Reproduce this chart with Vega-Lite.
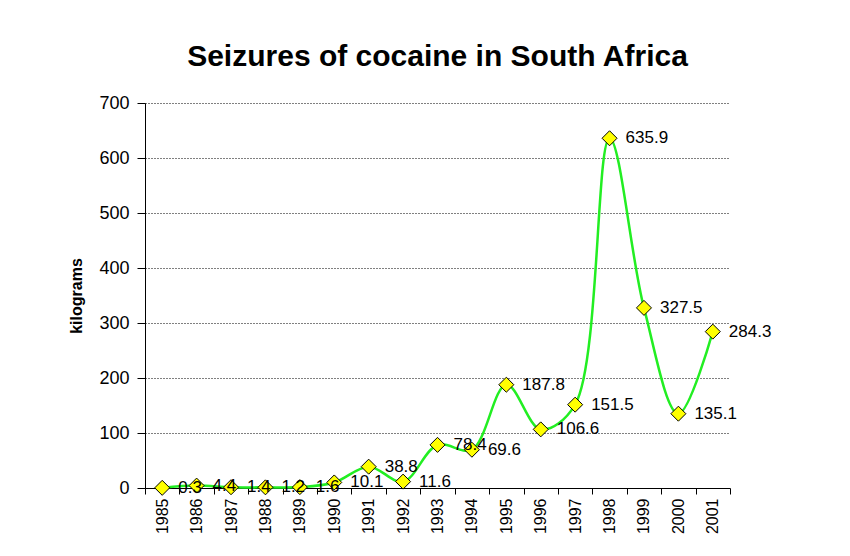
{
  "$schema": "https://vega.github.io/schema/vega-lite/v6.json",
  "width": 585,
  "height": 385,
  "autosize": {"type": "none"},
  "padding": {"left": 145, "top": 103, "right": 120, "bottom": 68},
  "background": "white",
  "config": {
    "font": "Liberation Sans",
    "view": {"stroke": null},
    "axis": {"labelColor": "black", "titleColor": "black", "domainColor": "black", "tickColor": "black"}
  },
  "title": {
    "text": "Seizures of cocaine in South Africa",
    "fontSize": 30,
    "fontWeight": "bold",
    "font": "Liberation Sans",
    "color": "black",
    "anchor": "middle",
    "offset": 22
  },
  "data": {
    "values": [
      {"year": "1985", "kg": 0.3},
      {"year": "1986", "kg": 4.4},
      {"year": "1987", "kg": 1.4},
      {"year": "1988", "kg": 1.2},
      {"year": "1989", "kg": 1.6},
      {"year": "1990", "kg": 10.1},
      {"year": "1991", "kg": 38.8},
      {"year": "1992", "kg": 11.6},
      {"year": "1993", "kg": 78.4},
      {"year": "1994", "kg": 69.6},
      {"year": "1995", "kg": 187.8},
      {"year": "1996", "kg": 106.6},
      {"year": "1997", "kg": 151.5},
      {"year": "1998", "kg": 635.9},
      {"year": "1999", "kg": 327.5},
      {"year": "2000", "kg": 135.1},
      {"year": "2001", "kg": 284.3}
    ]
  },
  "encoding": {
    "x": {
      "field": "year",
      "type": "ordinal",
      "scale": {"type": "band", "paddingInner": 0, "paddingOuter": 0},
      "axis": {
        "title": null,
        "labelAngle": -90,
        "labelFontSize": 16,
        "labelAlign": "right",
        "labelBaseline": "middle",
        "labelPadding": 4,
        "tickSize": 6,
        "tickBand": "extent",
        "grid": false
      }
    },
    "y": {
      "field": "kg",
      "type": "quantitative",
      "scale": {"domain": [0, 700]},
      "axis": {
        "title": "kilograms",
        "titleFontSize": 16,
        "titleFontWeight": "bold",
        "titlePadding": 14,
        "labelFontSize": 18,
        "labelPadding": 8,
        "tickSize": 8,
        "values": [0, 100, 200, 300, 400, 500, 600, 700],
        "grid": true,
        "gridColor": "black",
        "gridDash": [1, 2],
        "gridWidth": 1
      }
    }
  },
  "layer": [
    {
      "mark": {"type": "line", "interpolate": "catmull-rom", "color": "#22ee22", "strokeWidth": 2.5}
    },
    {
      "mark": {"type": "point", "shape": "diamond", "filled": true, "fill": "#ffff00", "stroke": "black", "strokeWidth": 1, "size": 225, "opacity": 1}
    },
    {
      "mark": {"type": "text", "align": "left", "baseline": "middle", "dx": 16, "dy": 0, "fontSize": 17, "color": "black"},
      "encoding": {"text": {"field": "kg", "type": "quantitative", "format": ".1f"}}
    }
  ]
}
